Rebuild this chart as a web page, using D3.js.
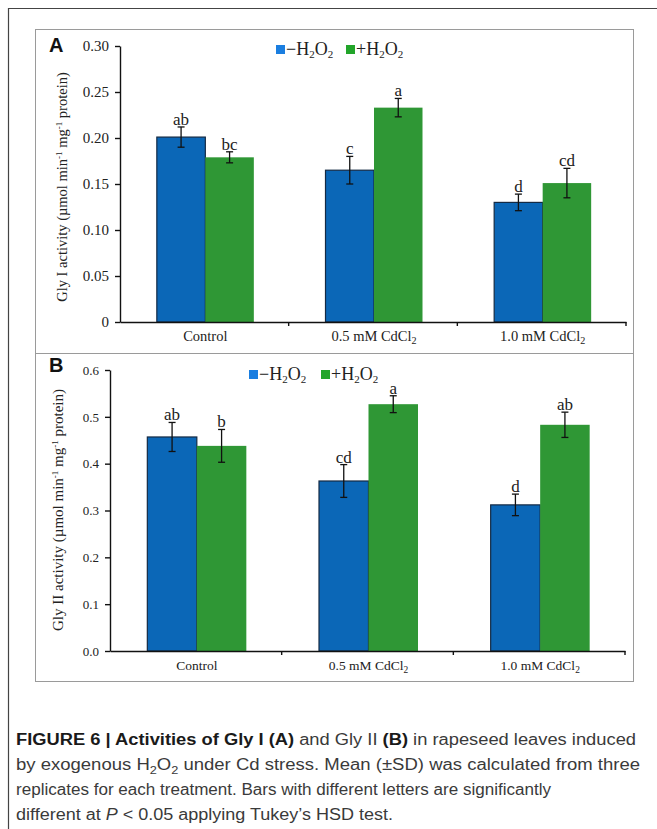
<!DOCTYPE html>
<html>
<head>
<meta charset="utf-8">
<script src="https://cdn.jsdelivr.net/npm/d3@7"></script>
<style>
  body { margin: 0; background: #fff; }
  svg { display: block; }
  .tick text { font-family: "Liberation Serif", "DejaVu Serif", serif; fill: #222; }
</style>
</head>
<body>
<svg id="fig" width="657" height="829"></svg>
<script>
// chart values
const categories = ['Control', '0.5 mM CdCl', '1.0 mM CdCl'];
const categorySubs = ['', '2', '2'];
const series = ['minus', 'plus'];

const glyIMinus = [0.201, 0.165, 0.130];
const glyIPlus = [0.179, 0.233, 0.151];
const glyIMinusSd = [0.011, 0.015, 0.009];
const glyIPlusSd = [0.006, 0.010, 0.016];
const glyIMinusLetters = ['ab', 'c', 'd'];
const glyIPlusLetters = ['bc', 'a', 'cd'];
const glyITicks = [0, 0.05, 0.10, 0.15, 0.20, 0.25, 0.30];
const glyITickLabels = ['0', '0.05', '0.10', '0.15', '0.20', '0.25', '0.30'];

const glyIIMinus = [0.457, 0.363, 0.312];
const glyIIPlus = [0.438, 0.527, 0.483];
const glyIIMinusSd = [0.031, 0.035, 0.023];
const glyIIPlusSd = [0.035, 0.018, 0.027];
const glyIIMinusLetters = ['ab', 'cd', 'd'];
const glyIIPlusLetters = ['b', 'a', 'ab'];
const glyIITicks = [0, 0.1, 0.2, 0.3, 0.4, 0.5, 0.6];
const glyIITickLabels = ['0.0', '0.1', '0.2', '0.3', '0.4', '0.5', '0.6'];

const barColor = {minus: '#0b67b7', plus: '#2f9735'};
const legendColor = {minus: '#1a7ee0', plus: '#22a52a'};
const serif = '"Liberation Serif", "DejaVu Serif", serif';

const svg = d3.select('#fig');

// outer frame, cut by the page at right and bottom
svg.append('path')
    .attr('d', 'M8.5,829 V8.5 H657')
    .attr('fill', 'none')
    .attr('stroke', '#444')
    .attr('stroke-width', 1.2);

/**
 * Draws one panel of the figure.
 * @param {Object} p panel options
 */
function drawPanel(p) {
  const g = svg.append('g');

  // panel box
  g.append('rect')
      .attr('x', 35.5).attr('y', p.boxTop + 0.5)
      .attr('width', 598).attr('height', p.boxBottom - p.boxTop)
      .attr('fill', 'none')
      .attr('stroke', '#9a9a9a')
      .attr('stroke-width', 1);

  g.append('text')
      .attr('x', 49).attr('y', p.letterY)
      .attr('font-family', '"Liberation Sans", Arial, sans-serif')
      .attr('font-weight', 'bold')
      .attr('font-size', 20)
      .attr('fill', '#111')
      .text(p.letter);

  const x0 = d3.scaleBand()
      .domain(categories)
      .range([p.left, p.right])
      .paddingInner(0).paddingOuter(0);
  const bw = x0.bandwidth();
  const x1 = d3.scaleBand()
      .domain(series)
      .range([bw / 2 - p.groupWidth / 2 + p.shift, bw / 2 + p.groupWidth / 2 + p.shift]);
  const y = d3.scaleLinear()
      .domain([0, p.max])
      .range([p.bottom, p.top]);

  const rows = categories.map(function(c, i) {
    return [
      {cat: c, s: 'minus', v: p.minus[i], sd: p.minusSd[i], l: p.minusLetters[i]},
      {cat: c, s: 'plus', v: p.plus[i], sd: p.plusSd[i], l: p.plusLetters[i]}
    ];
  });
  const flat = [].concat.apply([], rows);

  // bars
  g.selectAll('.bar').data(flat)
      .enter().append('rect')
      .attr('class', 'bar')
      .attr('x', function(d) { return x0(d.cat) + x1(d.s); })
      .attr('y', function(d) { return y(d.v); })
      .attr('width', x1.bandwidth())
      .attr('height', function(d) { return y(0) - y(d.v); })
      .attr('fill', function(d) { return barColor[d.s]; })
      .attr('stroke', function(d) { return d.s === 'minus' ? '#142a44' : 'none'; })
      .attr('stroke-width', 1.2);

  // error bars
  const cx = function(d) { return x0(d.cat) + x1(d.s) + x1.bandwidth() / 2; };
  const eb = g.selectAll('.err').data(flat).enter().append('g').attr('class', 'err')
      .attr('stroke', '#111').attr('stroke-width', 1.3);
  eb.append('line')
      .attr('x1', cx).attr('x2', cx)
      .attr('y1', function(d) { return y(d.v + d.sd); })
      .attr('y2', function(d) { return y(d.v - d.sd); });
  [1, -1].forEach(function(sign) {
    eb.append('line')
        .attr('x1', function(d) { return cx(d) - 3.5; })
        .attr('x2', function(d) { return cx(d) + 3.5; })
        .attr('y1', function(d) { return y(d.v + sign * d.sd); })
        .attr('y2', function(d) { return y(d.v + sign * d.sd); });
  });

  // significance letters
  g.selectAll('.sig').data(flat)
      .enter().append('text')
      .attr('class', 'sig')
      .attr('x', cx)
      .attr('y', function(d) { return y(d.v + d.sd) - 2; })
      .attr('text-anchor', 'middle')
      .attr('font-family', serif)
      .attr('font-size', 17)
      .attr('fill', '#222')
      .text(function(d) { return d.l; });

  // y axis
  const yAxis = d3.axisLeft(y)
      .tickValues(p.ticks)
      .tickFormat(function(d, i) { return p.tickLabels[i]; })
      .tickSize(5).tickSizeOuter(0).tickPadding(6);
  const ya = g.append('g')
      .attr('transform', 'translate(' + p.left + ',0)')
      .call(yAxis);
  ya.selectAll('text').attr('font-size', p.tickFont);
  ya.selectAll('line, path').attr('stroke', '#111').attr('stroke-width', 1.4);

  // x axis line with boundary ticks
  const xa = g.append('g')
      .attr('transform', 'translate(0,' + p.bottom + ')')
      .call(d3.axisBottom(x0).tickSize(0).tickSizeOuter(0).tickFormat(''));
  xa.select('.domain').attr('stroke', '#111').attr('stroke-width', 1.6);
  xa.selectAll('.tick line').remove();
  g.selectAll('.bound').data(categories)
      .enter().append('line')
      .attr('class', 'bound')
      .attr('x1', function(c) { return x0(c) + bw; })
      .attr('x2', function(c) { return x0(c) + bw; })
      .attr('y1', p.bottom).attr('y2', p.bottom + 4)
      .attr('stroke', '#111').attr('stroke-width', 1.4);

  // category labels
  const cl = g.selectAll('.cat').data(categories)
      .enter().append('text')
      .attr('class', 'cat')
      .attr('x', function(c) { return x0(c) + bw / 2 + p.shift; })
      .attr('y', p.bottom + 19)
      .attr('text-anchor', 'middle')
      .attr('font-family', serif)
      .attr('font-size', p.catFont)
      .attr('fill', '#222');
  cl.append('tspan').text(function(c) { return c; });
  cl.append('tspan')
      .attr('dy', 3)
      .attr('font-size', p.catFont * 0.7)
      .text(function(c, i) { return categorySubs[i]; });

  // y axis title
  const yt = g.append('text')
      .attr('transform', 'translate(' + p.titleX + ',' + p.titleY + ') rotate(-90)')
      .attr('text-anchor', 'middle')
      .attr('font-family', serif)
      .attr('font-size', p.titleFont)
      .attr('fill', '#222');
  yt.append('tspan').text(p.title + ' activity (\u00b5mol min');
  yt.append('tspan').attr('dy', -5).attr('font-size', 9).text('-1');
  yt.append('tspan').attr('dy', 5).text(' mg');
  yt.append('tspan').attr('dy', -5).attr('font-size', 9).text('-1');
  yt.append('tspan').attr('dy', 5).text(' protein)');

  // legend
  const lg = g.append('g').attr('transform', 'translate(' + p.legendX + ',' + p.legendY + ')');
  const signs = {minus: '\u2212', plus: '+'};
  const offsets = {minus: 0, plus: p.legendGap};
  series.forEach(function(s) {
    const item = lg.append('g').attr('transform', 'translate(' + offsets[s] + ',0)');
    item.append('rect')
        .attr('x', 0).attr('y', -10)
        .attr('width', 9).attr('height', 9)
        .attr('fill', legendColor[s]);
    const t = item.append('text')
        .attr('x', 10).attr('y', 0)
        .attr('font-family', serif)
        .attr('font-size', 18)
        .attr('fill', '#222');
    t.append('tspan').text(signs[s] + 'H');
    t.append('tspan').attr('dy', 3).attr('font-size', 11).text('2');
    t.append('tspan').attr('dy', -3).text('O');
    t.append('tspan').attr('dy', 3).attr('font-size', 11).text('2');
  });
}

drawPanel({
  letter: 'A', letterY: 52, boxTop: 29, boxBottom: 353,
  left: 120, right: 626, top: 46, bottom: 322, max: 0.30,
  groupWidth: 97, shift: 1,
  minus: glyIMinus, plus: glyIPlus, minusSd: glyIMinusSd, plusSd: glyIPlusSd,
  minusLetters: glyIMinusLetters, plusLetters: glyIPlusLetters,
  ticks: glyITicks, tickLabels: glyITickLabels, tickFont: 15, catFont: 14.5,
  title: 'Gly I', titleX: 67, titleY: 187, titleFont: 14.5,
  legendX: 276, legendY: 55, legendGap: 70
});

drawPanel({
  letter: 'B', letterY: 372, boxTop: 353, boxBottom: 681,
  left: 110, right: 625, top: 370, bottom: 651, max: 0.6,
  groupWidth: 99, shift: 1,
  minus: glyIIMinus, plus: glyIIPlus, minusSd: glyIIMinusSd, plusSd: glyIIPlusSd,
  minusLetters: glyIIMinusLetters, plusLetters: glyIIPlusLetters,
  ticks: glyIITicks, tickLabels: glyIITickLabels, tickFont: 13, catFont: 13.5,
  title: 'Gly II', titleX: 63, titleY: 510, titleFont: 15,
  legendX: 249, legendY: 380, legendGap: 72
});

// caption
const cap = svg.append('g')
    .attr('font-family', '"Liberation Sans", Arial, sans-serif')
    .attr('font-size', 16)
    .attr('fill', '#3a3a3a');

const line1 = cap.append('text').attr('x', 16).attr('y', 745)
    .attr('textLength', 620).attr('lengthAdjust', 'spacingAndGlyphs');
line1.append('tspan').attr('font-weight', 'bold').attr('fill', '#1a1a1a')
    .text('FIGURE 6 | Activities of Gly I (A)');
line1.append('tspan').text(' and Gly II ');
line1.append('tspan').attr('font-weight', 'bold').attr('fill', '#1a1a1a').text('(B)');
line1.append('tspan').text(' in rapeseed leaves induced');

const line2 = cap.append('text').attr('x', 16).attr('y', 770)
    .attr('textLength', 624).attr('lengthAdjust', 'spacingAndGlyphs');
line2.append('tspan').text('by exogenous H');
line2.append('tspan').attr('dy', 4).attr('font-size', 11).text('2');
line2.append('tspan').attr('dy', -4).text('O');
line2.append('tspan').attr('dy', 4).attr('font-size', 11).text('2');
line2.append('tspan').attr('dy', -4).text(' under Cd stress. Mean (\u00b1SD) was calculated from three');

cap.append('text').attr('x', 16).attr('y', 795)
    .attr('textLength', 535).attr('lengthAdjust', 'spacingAndGlyphs')
    .text('replicates for each treatment. Bars with different letters are significantly');

const line4 = cap.append('text').attr('x', 16).attr('y', 820)
    .attr('textLength', 377).attr('lengthAdjust', 'spacingAndGlyphs');
line4.append('tspan').text('different at ');
line4.append('tspan').attr('font-style', 'italic').text('P');
line4.append('tspan').text(' < 0.05 applying Tukey\u2019s HSD test.');
</script>
</body>
</html>
